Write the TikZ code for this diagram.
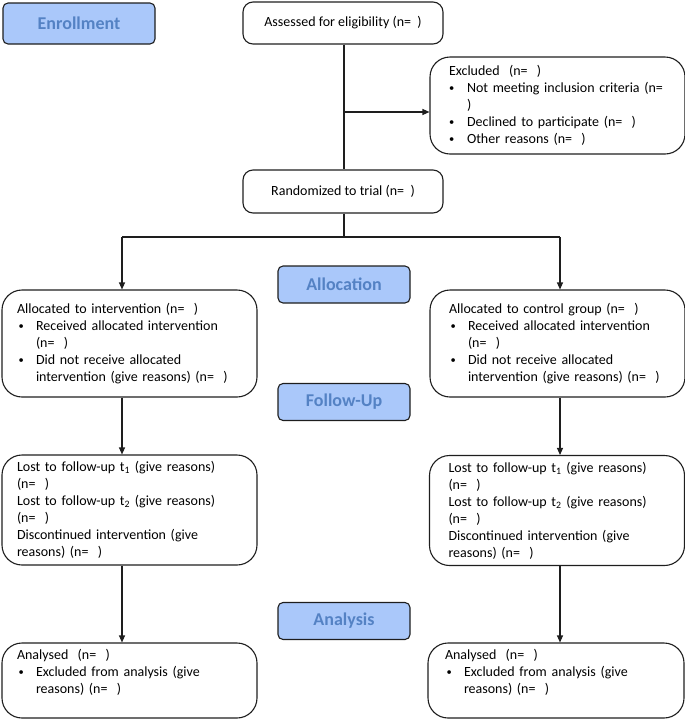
\documentclass[tikz,border=0pt]{standalone}
\usepackage{fontspec}
\usepackage{graphicx}
\setmainfont{Carlito}
\usetikzlibrary{arrows.meta}
\definecolor{labfill}{RGB}{170,200,250}
\definecolor{labtext}{RGB}{84,130,196}
\definecolor{edge}{RGB}{30,30,30}
\newcommand{\sbul}{\raisebox{0.9pt}{\scalebox{0.75}{\textbullet}}}
\newcommand{\bul}{\makebox[19pt][l]{\hspace{1.5pt}\sbul}}
\newcommand{\ind}{\hspace*{19pt}}
\begin{document}
\begin{tikzpicture}[x=1pt,y=-1pt,
  every node/.style={font=\fontsize{14}{17}\selectfont},
  phase/.style={draw=edge,line width=1.1pt,fill=labfill,rounded corners=5pt,
    minimum width=132pt,minimum height=37pt,inner sep=0pt,
    font=\fontsize{18}{20}\selectfont\bfseries,text=labtext},
  smallbox/.style={draw=edge,line width=1.1pt,rounded corners=10pt,
    minimum width=200pt,minimum height=42pt,inner sep=0pt},
  bigbox/.style={draw=edge,line width=1.1pt,rounded corners=20pt,align=left,
    inner ysep=0pt},
  lbox/.style={bigbox,minimum width=255pt,inner xsep=15pt,text width=225pt},
  rbox/.style={bigbox,minimum width=255pt,inner xsep=19pt,text width=217pt},
  conn/.style={draw=edge,line width=1.1pt},
  arr/.style={conn,-{Triangle[length=7pt,width=6pt]}}]
\useasboundingbox (0,0) rectangle (685,721);

\node[phase,minimum width=152pt,minimum height=41pt] (enr) at (79,23.5) {Enrollment};
\node[smallbox] (assess) at (343,23) {Assessed for eligibility (n=\ \ )};
\node[rbox,minimum height=97pt,minimum width=253pt] (excl) at (557.5,105.5) {Excluded\ \ (n=\ \ )\\
\makebox[18pt][l]{\sbul}Not meeting inclusion criteria (n=\\
\hspace*{18pt})\\
\makebox[18pt][l]{\sbul}Declined to participate (n=\ \ )\\
\makebox[18pt][l]{\sbul}Other reasons (n=\ \ )};
\node[smallbox,minimum height=43pt] (rand) at (343,191.5) {Randomized to trial (n=\ \ )};

\node[phase] (alloc) at (344,284.5) {Allocation};
\node[lbox,minimum height=107pt] (lalloc) at (129.5,343.5) {Allocated to intervention (n=\ \ )\\
\bul Received allocated intervention\\
\ind(n=\ \ )\\
\bul Did not receive allocated\\
\ind intervention (give reasons) (n=\ \ )};
\node[rbox,minimum height=107pt] (ralloc) at (557.5,343.5) {Allocated to control group (n=\ \ )\\
\bul Received allocated intervention\\
\ind(n=\ \ )\\
\bul Did not receive allocated\\
\ind intervention (give reasons) (n=\ \ )};

\node[phase] (follow) at (344,402) {Follow-Up};
\node[lbox,minimum height=110pt] (lfu) at (129.5,510) {Lost to follow-up t\textsubscript{1} (give reasons)\\
(n=\ \ )\\
Lost to follow-up t\textsubscript{2} (give reasons)\\
(n=\ \ )\\
Discontinued intervention (give\\
reasons) (n=\ \ )};
\node[rbox,minimum height=110pt] (rfu) at (557,510.5) {Lost to follow-up t\textsubscript{1} (give reasons)\\
(n=\ \ )\\
Lost to follow-up t\textsubscript{2} (give reasons)\\
(n=\ \ )\\
Discontinued intervention (give\\
reasons) (n=\ \ )};

\node[phase] (analysis) at (344,621) {Analysis};
\node[lbox,minimum height=75pt] (lan) at (129.5,680.5) {\begin{minipage}[t][62pt][t]{225pt}Analysed\ \ (n=\ \ )\\
\bul Excluded from analysis (give\\
\ind reasons) (n=\ \ )\end{minipage}};
\node[rbox,minimum height=75pt,inner xsep=17pt,text width=222pt,minimum width=256pt] (ran) at (556,680.5) {\begin{minipage}[t][62pt][t]{222pt}Analysed\ \ (n=\ \ )\\
\bul Excluded from analysis (give\\
\ind reasons) (n=\ \ )\end{minipage}};

\coordinate (mid) at (344,112);
\coordinate (split) at (344,237);
\coordinate (lx) at (122,237);
\coordinate (rx) at (560,237);

\draw[conn] (assess.south -| mid) -- (rand.north -| mid);
\draw[arr] (mid) -- (excl.west |- mid);
\draw[conn] (rand.south -| split) -- (split);
\draw[conn] (lx) -- (rx);
\draw[arr] (lx) -- (lalloc.north -| lx);
\draw[arr] (rx) -- (ralloc.north -| rx);
\draw[arr] (lalloc.south -| lx) -- (lfu.north -| lx);
\draw[arr] (ralloc.south -| rx) -- (rfu.north -| rx);
\draw[arr] (lfu.south -| lx) -- (lan.north -| lx);
\draw[arr] (rfu.south -| rx) -- (ran.north -| rx);
\end{tikzpicture}
\end{document}
